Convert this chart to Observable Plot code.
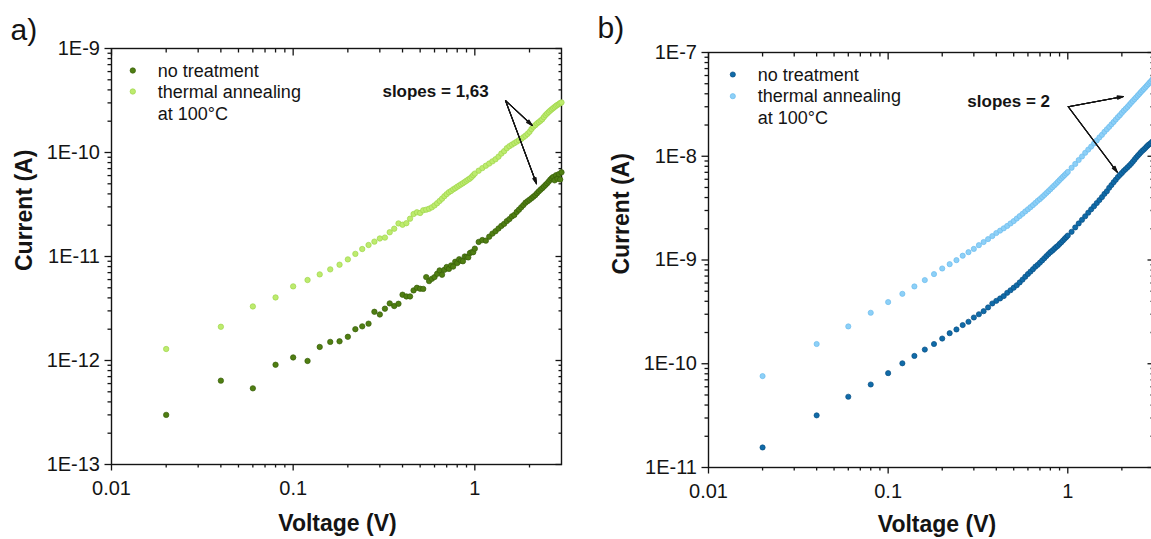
<!DOCTYPE html>
<html><head><meta charset="utf-8">
<script src="https://cdn.jsdelivr.net/npm/d3@7"></script>
<script src="https://cdn.jsdelivr.net/npm/@observablehq/plot@0.6"></script>
<style>
html,body{margin:0;padding:0;background:#fff;}
#wrap{position:relative;width:1151px;height:539px;overflow:hidden;background:#fff;}
#pa{position:absolute;left:0;top:0;width:575px;height:539px;}
#pb{position:absolute;left:580px;top:0;width:580px;height:539px;}
#wrap svg{max-width:none !important;display:block;}
</style></head><body>
<div id="wrap"><div id="pa"></div><div id="pb"></div></div>
<script>
// ---------------- data ----------------
const voltage = [0.02,0.04,0.06,0.08,0.10,0.12,0.14,0.16,0.18,0.20,0.22,0.24,0.26,0.28,0.30,0.32,0.34,0.36,0.38,0.40,
  0.42,0.44,0.46,0.48,0.50,0.52,0.54,0.56,0.58,0.60,0.62,0.64,0.66,0.68,0.70,0.72,0.74,0.76,0.78,0.80,
  0.82,0.84,0.86,0.88,0.90,0.92,0.94,0.96,0.98,1.00,
  1.05,1.10,1.15,1.20,1.25,1.30,1.35,1.40,1.45,1.50,1.55,1.60,1.65,1.70,1.75,1.80,1.85,1.90,1.95,2.00,
  2.05,2.10,2.15,2.20,2.25,2.30,2.35,2.40,2.45,2.50,2.55,2.60,2.65,2.70,2.75,2.80,2.85,2.90,2.95,3.00];

// panel a) currents (A)
const aNoTreatment = [3.0e-13,6.4e-13,5.4e-13,9.1e-13,1.07e-12,9.9e-13,1.35e-12,1.51e-12,1.53e-12,1.69e-12,
  2.0e-12,2.13e-12,2.26e-12,2.94e-12,2.77e-12,3.15e-12,3.54e-12,3.34e-12,3.51e-12,4.29e-12,
  4.13e-12,4.13e-12,4.72e-12,5.0e-12,4.9e-12,4.88e-12,6.34e-12,5.8e-12,6.1e-12,6.34e-12,
  6.82e-12,7.35e-12,6.68e-12,7.45e-12,7.92e-12,7.6e-12,8.2e-12,8.0e-12,8.9e-12,8.65e-12,
  9.4e-12,9.1e-12,9.0e-12,1.0e-11,9.9e-12,9.8e-12,1.08e-11,1.10e-11,1.10e-11,1.19e-11,
  1.38e-11,1.44e-11,1.42e-11,1.55e-11,1.66e-11,1.75e-11,1.86e-11,1.97e-11,2.06e-11,2.19e-11,
  2.29e-11,2.43e-11,2.51e-11,2.68e-11,2.82e-11,2.97e-11,3.12e-11,3.29e-11,3.40e-11,3.51e-11,
  3.63e-11,3.76e-11,3.89e-11,4.06e-11,4.23e-11,4.39e-11,4.54e-11,4.70e-11,4.88e-11,5.05e-11,
  5.25e-11,5.47e-11,5.65e-11,5.81e-11,5.4e-11,6.04e-11,5.6e-11,6.2e-11,5.5e-11,6.45e-11];
const aAnnealed = [1.29e-12,2.11e-12,3.31e-12,4.04e-12,5.16e-12,5.94e-12,6.73e-12,7.52e-12,8.34e-12,9.38e-12,
  1.06e-11,1.18e-11,1.29e-11,1.39e-11,1.49e-11,1.52e-11,1.71e-11,1.85e-11,2.08e-11,2.02e-11,
  2.09e-11,2.31e-11,2.56e-11,2.66e-11,2.62e-11,2.78e-11,2.82e-11,2.88e-11,2.97e-11,3.10e-11,
  3.25e-11,3.42e-11,3.60e-11,3.80e-11,3.98e-11,4.15e-11,4.27e-11,4.42e-11,4.54e-11,4.68e-11,
  4.81e-11,4.94e-11,5.07e-11,5.21e-11,5.35e-11,5.50e-11,5.62e-11,5.82e-11,6.05e-11,6.27e-11,
  6.68e-11,7.08e-11,7.46e-11,7.83e-11,8.22e-11,8.61e-11,9.12e-11,9.77e-11,1.03e-10,1.10e-10,
  1.15e-10,1.19e-10,1.23e-10,1.27e-10,1.31e-10,1.35e-10,1.40e-10,1.45e-10,1.51e-10,1.58e-10,
  1.68e-10,1.77e-10,1.83e-10,1.90e-10,1.96e-10,2.02e-10,2.09e-10,2.19e-10,2.29e-10,2.37e-10,
  2.45e-10,2.53e-10,2.60e-10,2.67e-10,2.74e-10,2.81e-10,2.87e-10,2.92e-10,2.99e-10,3.03e-10];

// panel b) currents (A)
const bNoTreatment = [1.56e-11,3.18e-11,4.81e-11,6.31e-11,8.12e-11,1.01e-10,1.19e-10,1.37e-10,1.55e-10,1.75e-10,
  1.97e-10,2.14e-10,2.36e-10,2.54e-10,2.79e-10,3.00e-10,3.21e-10,3.49e-10,3.81e-10,4.04e-10,
  4.26e-10,4.49e-10,4.83e-10,5.11e-10,5.41e-10,5.71e-10,6.08e-10,6.47e-10,6.90e-10,7.33e-10,
  7.73e-10,8.15e-10,8.63e-10,8.99e-10,9.44e-10,9.91e-10,1.04e-9,1.09e-9,1.14e-9,1.19e-9,
  1.23e-9,1.28e-9,1.33e-9,1.37e-9,1.43e-9,1.48e-9,1.54e-9,1.60e-9,1.66e-9,1.72e-9,
  1.87e-9,2.06e-9,2.25e-9,2.44e-9,2.64e-9,2.86e-9,3.08e-9,3.30e-9,3.54e-9,3.78e-9,
  4.04e-9,4.34e-9,4.60e-9,4.97e-9,5.28e-9,5.62e-9,5.94e-9,6.30e-9,6.61e-9,6.90e-9,
  7.23e-9,7.52e-9,7.82e-9,8.13e-9,8.47e-9,8.85e-9,9.27e-9,9.70e-9,1.01e-8,1.05e-8,
  1.09e-8,1.13e-8,1.16e-8,1.20e-8,1.24e-8,1.28e-8,1.31e-8,1.34e-8,1.38e-8,1.41e-8];
const bAnnealed = [7.60e-11,1.55e-10,2.29e-10,3.10e-10,3.93e-10,4.72e-10,5.56e-10,6.40e-10,7.31e-10,8.28e-10,
  9.12e-10,9.97e-10,1.10e-9,1.19e-9,1.28e-9,1.39e-9,1.49e-9,1.59e-9,1.70e-9,1.82e-9,
  1.92e-9,2.02e-9,2.13e-9,2.25e-9,2.37e-9,2.51e-9,2.65e-9,2.79e-9,2.94e-9,3.08e-9,
  3.23e-9,3.38e-9,3.55e-9,3.72e-9,3.87e-9,4.05e-9,4.23e-9,4.42e-9,4.61e-9,4.81e-9,
  5.02e-9,5.22e-9,5.43e-9,5.66e-9,5.89e-9,6.12e-9,6.35e-9,6.58e-9,6.82e-9,7.06e-9,
  7.74e-9,8.43e-9,9.20e-9,9.95e-9,1.08e-8,1.16e-8,1.24e-8,1.33e-8,1.42e-8,1.52e-8,
  1.61e-8,1.72e-8,1.82e-8,1.92e-8,2.03e-8,2.14e-8,2.26e-8,2.38e-8,2.49e-8,2.62e-8,
  2.75e-8,2.87e-8,2.99e-8,3.13e-8,3.27e-8,3.41e-8,3.55e-8,3.69e-8,3.84e-8,3.99e-8,
  4.15e-8,4.30e-8,4.45e-8,4.61e-8,4.77e-8,4.94e-8,5.12e-8,5.27e-8,5.46e-8,5.62e-8];

// axes / ticks
const xMajor = [0.01, 0.1, 1];
const xTickLabels = ["0.01", "0.1", "1"];
const aYMajor = [1e-13, 1e-12, 1e-11, 1e-10, 1e-9];
const aYTickLabels = ["1E-13", "1E-12", "1E-11", "1E-10", "1E-9"];
const bYMajor = [1e-11, 1e-10, 1e-9, 1e-8, 1e-7];
const bYTickLabels = ["1E-11", "1E-10", "1E-9", "1E-8", "1E-7"];
const legendLines = ["no treatment", "thermal annealing", "at 100°C"];

// annotations (data coordinates)
const aNote = [{v: 0.31, i: 3.45e-10, label: "slopes = 1,63"}];
const aArrows = [{v1: 1.475, i1: 3.16e-10, v2: 2.07, i2: 1.82e-10}, {v1: 1.475, i1: 3.16e-10, v2: 2.186, i2: 5.0e-11}];
const bNote = [{v: 0.276, i: 2.97e-8, label: "slopes = 2"}];
const bArrows = [{v1: 1.006, i1: 3.0e-8, v2: 2.04, i2: 3.77e-8}, {v1: 1.006, i1: 3.0e-8, v2: 1.886, i2: 7.02e-9}];

// ---------------- drawing ----------------
const FONT = "'Liberation Sans', Arial, Helvetica, sans-serif";
const INK = "#141414";

function minors(majors, lo, hi) {
  const out = [];
  for (const d of majors) for (let m = 2; m <= 9; m++) {
    const t = +(m * d).toPrecision(3);
    if (t > lo && t < hi) out.push(t);
  }
  return out;
}

function panel(o) {
  const xDomain = [0.01, 3];
  const xMinor = minors(xMajor, xDomain[0], xDomain[1]);
  const yMinor = minors(o.yMajor, o.yDomain[0], o.yDomain[1]);
  const rows = (vals) => voltage.map((v, k) => ({v, i: vals[k]}));
  const tk = {label: null, stroke: INK, strokeWidth: 1.3};
  const blank = () => "";
  const legendText = legendLines.map((name, k) =>
    Plot.text([name], {frameAnchor: "top-left", text: d => d, dx: o.ltx, dy: o.lty[k], textAnchor: "start", lineAnchor: "bottom", fontSize: 18, fill: INK}));
  // filled-looking arrowheads: overlay several heads of decreasing angle
  const arrowMarks = [32, 22, 12, 4].map(a =>
    Plot.arrow(o.arrows, {x1: "v1", y1: "i1", x2: "v2", y2: "i2", stroke: INK, strokeWidth: 1.05, headLength: 9, headAngle: a}));
  return Plot.plot({
    width: o.width, height: 539,
    marginLeft: o.ml, marginRight: o.mr, marginTop: o.mt, marginBottom: o.mb,
    style: {fontFamily: FONT, fontSize: "20px", color: INK, background: "transparent", overflow: "visible"},
    x: {type: "log", domain: xDomain},
    y: {type: "log", domain: o.yDomain},
    marks: [
      Plot.frame({stroke: INK, strokeWidth: 1.4}),
      Plot.axisX(xMajor, {...tk, anchor: "bottom", tickSize: 6.5, tickPadding: 10, tickFormat: d => xTickLabels[xMajor.indexOf(d)]}),
      Plot.axisX(xMinor, {...tk, anchor: "bottom", tickSize: 3.5, tickFormat: blank}),
      Plot.axisX(xMajor, {...tk, anchor: "top", tickSize: 6.5, dy: 6.5, tickFormat: blank}),
      Plot.axisX(xMinor, {...tk, anchor: "top", tickSize: 3.5, dy: 3.5, tickFormat: blank}),
      Plot.axisY(o.yMajor, {...tk, anchor: "left", tickSize: 6.5, tickPadding: 5, tickFormat: d => o.yLabels[o.yMajor.indexOf(d)]}),
      Plot.axisY(yMinor, {...tk, anchor: "left", tickSize: 3.5, tickFormat: blank}),
      Plot.axisY(o.yMajor, {...tk, anchor: "right", tickSize: 6.5, dx: -6.5, tickFormat: blank}),
      Plot.axisY(yMinor, {...tk, anchor: "right", tickSize: 3.5, dx: -3.5, tickFormat: blank}),
      Plot.dot(rows(o.s1), {x: "v", y: "i", r: o.r, fill: o.c1, stroke: o.c1s, strokeWidth: 0.7}),
      Plot.dot(rows(o.s2), {x: "v", y: "i", r: o.r, fill: o.c2, stroke: o.c2s, strokeWidth: 0.7}),
      Plot.dot([legendLines[0]], {frameAnchor: "top-left", dx: o.lgx, dy: o.lgy1, r: o.r, fill: o.c1, stroke: o.c1s, strokeWidth: 0.7}),
      Plot.dot([legendLines[1]], {frameAnchor: "top-left", dx: o.lgx, dy: o.lgy2, r: o.r, fill: o.c2, stroke: o.c2s, strokeWidth: 0.7}),
      ...legendText,
      Plot.text(o.note, {x: "v", y: "i", text: "label", textAnchor: "start", lineAnchor: "bottom", fontSize: 17, fontWeight: "bold", fill: INK}),
      ...arrowMarks,
      Plot.text(["Voltage (V)"], {frameAnchor: "bottom", text: d => d, dx: o.xtdx, dy: o.xtdy, lineAnchor: "bottom", fontSize: 23, fontWeight: "bold", fill: INK}),
      Plot.text(["Current (A)"], {frameAnchor: "left", text: d => d, dx: o.ytdx, dy: o.ytdy, rotate: -90, lineAnchor: "bottom", fontSize: 23, fontWeight: "bold", fill: INK}),
      Plot.text([o.letter], {frameAnchor: "top-left", text: d => d, dx: o.ldx, dy: o.ldy, textAnchor: "start", lineAnchor: "bottom", fontSize: 30, fill: INK})
    ]
  });
}

const A = {
  width: 575, ml: 111, mr: 14, mt: 48, mb: 75,
  yDomain: [1e-13, 1e-9], yMajor: aYMajor, yLabels: aYTickLabels,
  s1: aNoTreatment, s2: aAnnealed, r: 2.7,
  c1: "#4f7e12", c1s: "#385e08", c2: "#bdeb6e", c2s: "#9fd64c",
  lgx: 21.3, lgy1: 22, lgy2: 43, ltx: 46.3, lty: [28, 49.3, 71],
  note: aNote, arrows: aArrows,
  xtdx: 1, xtdy: 66, ytdx: -80, ytdy: 14.5, letter: "a)", ldx: -101, ldy: -9
};
const B = {
  width: 580, ml: 128, mr: 7, mt: 52, mb: 72,
  yDomain: [1e-11, 1e-7], yMajor: bYMajor, yLabels: bYTickLabels,
  s1: bNoTreatment, s2: bAnnealed, r: 2.6,
  c1: "#106ba8", c1s: "#0a5085", c2: "#8dd0f7", c2s: "#6cbcee",
  lgx: 24.3, lgy1: 22, lgy2: 43.7, ltx: 49.3, lty: [28, 49.7, 71.3],
  note: bNote, arrows: bArrows,
  xtdx: 6, xtdy: 64.7, ytdx: -80, ytdy: 14.5, letter: "b)", ldx: -111, ldy: -15
};

document.getElementById("pa").appendChild(panel(A));
document.getElementById("pb").appendChild(panel(B));
</script></body></html>
